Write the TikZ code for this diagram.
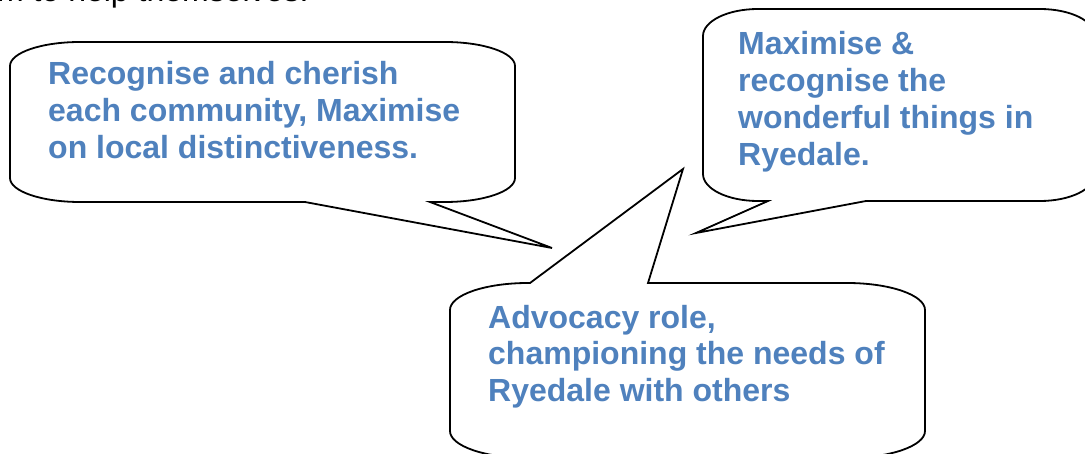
\documentclass[tikz,border=0pt]{standalone}
\usepackage{fontspec}
\setmainfont{Liberation Sans}
\definecolor{sayblue}{RGB}{79,129,189}
\tikzset{
  bubble/.style={draw=black,line width=1.8pt,fill=white},
  say/.style={anchor=base west,align=left,inner sep=0pt,text=sayblue,font=\fontsize{32}{36.8}\selectfont\bfseries},
}
\begin{document}
\begin{tikzpicture}[x=1pt,y=-1pt]
\useasboundingbox (0,0) rectangle (1085,454);
\clip (0,0) rectangle (1085,454);
\node[anchor=base west,inner sep=0pt,font=\fontsize{32}{36.8}\selectfont] (intro) at (-3,1.5) {m to help themselves.};
\coordinate (tipA) at (552,248);
\coordinate (tipB) at (683,169);
\coordinate (tipC) at (696,233);
\draw[bubble](10,66)arc[start angle=180,end angle=270,x radius=70,y radius=24]--(445,42)arc[start angle=270,end angle=360,x radius=70,y radius=24]--(515,178)arc[start angle=0,end angle=90,x radius=70,y radius=24]--(430,202)--(tipA)--(305,202)--(80,202)arc[start angle=90,end angle=180,x radius=70,y radius=24]--cycle;
\draw[bubble](703,36)arc[start angle=180,end angle=270,x radius=55,y radius=27]--(1040,9)arc[start angle=270,end angle=360,x radius=55,y radius=27]--(1095,174)arc[start angle=0,end angle=90,x radius=55,y radius=27]--(866,201)--(tipC)--(768,201)--(758,201)arc[start angle=90,end angle=180,x radius=55,y radius=27]--cycle;
\draw[bubble](450,310)arc[start angle=180,end angle=270,x radius=78,y radius=27]--(530,283)--(tipB)--(648,283)--(847,283)arc[start angle=270,end angle=360,x radius=78,y radius=27]--(925,431)arc[start angle=0,end angle=90,x radius=78,y radius=27]--(528,458)arc[start angle=90,end angle=180,x radius=78,y radius=27]--cycle;
% base anchor sits on the last line
\node[say] (cherish) at (48,158.6) {Recognise and cherish\\each community, Maximise\\on local distinctiveness.};
\node[say] (wonder) at (738,165.4) {Maximise \&\\recognise the\\wonderful things in\\Ryedale.};
\node[say] (advocacy) at (488,401.6) {Advocacy role,\\championing the needs of\\Ryedale with others};
\end{tikzpicture}
\end{document}
